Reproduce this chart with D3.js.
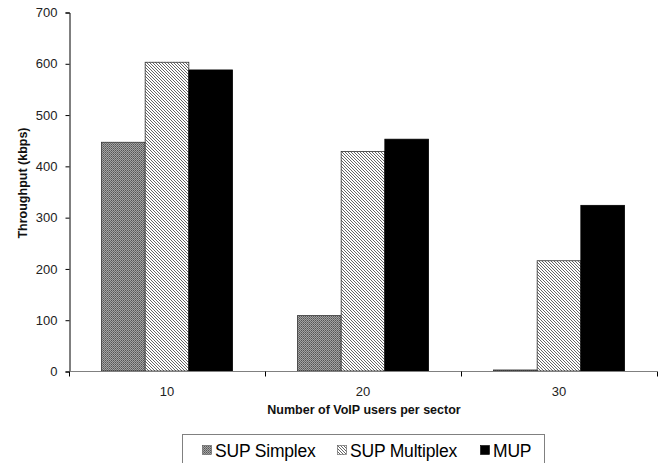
<!DOCTYPE html>
<html>
<head>
<meta charset="utf-8">
<script src="https://cdn.jsdelivr.net/npm/d3@7"></script>
<style>
  html, body { margin: 0; padding: 0; background: #fff; }
  svg { display: block; font-family: Arial, "Liberation Sans", sans-serif; }
</style>
</head>
<body>
<svg id="chart" width="670" height="463"></svg>
<script>
// Throughput per sector for each scheduling scheme
const categories = ["10", "20", "30"];
const seriesNames = ["SUP Simplex", "SUP Multiplex", "MUP"];
const supSimplex = [446, 108, 2];
const supMultiplex = [602, 428, 215];
const mup = [587, 452, 323];
const yTicks = [0, 100, 200, 300, 400, 500, 600, 700];

const seriesValues = [supSimplex, supMultiplex, mup];

const svg = d3.select("#chart");
const defs = svg.append("defs");

// Dotted grey fill
const p1 = defs.append("pattern").attr("id", "pSimplex")
  .attr("patternUnits", "userSpaceOnUse").attr("width", 2).attr("height", 2);
p1.append("rect").attr("width", 2).attr("height", 2).attr("fill", "#a4a4a4");
p1.append("rect").attr("x", 0).attr("y", 0).attr("width", 1).attr("height", 1).attr("fill", "#555");
p1.append("rect").attr("x", 1).attr("y", 1).attr("width", 1).attr("height", 1).attr("fill", "#6e6e6e");

// Diagonal hatching
const p2 = defs.append("pattern").attr("id", "pMultiplex")
  .attr("patternUnits", "userSpaceOnUse").attr("width", 3).attr("height", 3);
p2.append("rect").attr("width", 3).attr("height", 3).attr("fill", "#fff");
p2.append("path").attr("d", "M-1,-1 L4,4 M-1,2 L1,4 M2,-1 L4,1")
  .attr("stroke", "#666").attr("stroke-width", 1);

const fills = ["url(#pSimplex)", "url(#pMultiplex)", "#000"];
const strokes = ["#333", "#333", "#000"];

const plotLeft = 69, plotRight = 657, plotTop = 12, plotBottom = 371;

const x0 = d3.scaleBand().domain(categories).range([plotLeft, plotRight]).padding(0);
const x1 = d3.scaleBand().domain(seriesNames).range([0, x0.bandwidth()])
  .paddingInner(0).paddingOuter(0.744);
const y = d3.scaleLinear().domain([0, 700]).range([plotBottom, plotTop]);

// Bars
categories.forEach((c, ci) => {
  const g = svg.append("g").attr("transform", `translate(${x0(c)},0)`);
  seriesNames.forEach((s, si) => {
    const v = seriesValues[si][ci];
    g.append("rect")
      .attr("x", x1(s))
      .attr("y", y(v))
      .attr("width", x1.bandwidth())
      .attr("height", y(0) - y(v))
      .attr("fill", fills[si])
      .attr("stroke", strokes[si])
      .attr("stroke-width", 0.8);
  });
});

// Y axis
const yAxis = d3.axisLeft(y).tickValues(yTicks).tickSize(4).tickPadding(8);
const gy = svg.append("g").attr("transform", `translate(${plotLeft + 0.5},0.5)`).call(yAxis);
gy.select(".domain").attr("stroke", "#000");
gy.selectAll(".tick line").attr("stroke", "#000");
gy.selectAll("text").attr("font-size", 13).attr("fill", "#222")
  .attr("font-family", "Arial, 'Liberation Sans', sans-serif");

// X axis: line plus tick marks on category boundaries
const gx = svg.append("g").attr("transform", `translate(0,${plotBottom + 0.5})`);
gx.append("line").attr("x1", plotLeft).attr("x2", plotRight).attr("y1", 0).attr("y2", 0)
  .attr("stroke", "#808080").attr("stroke-width", 1);
const bounds = categories.map(c => x0(c)).concat([x0(categories[categories.length - 1]) + x0.bandwidth()]);
gx.selectAll("line.tk").data(bounds).enter().append("line").attr("class", "tk")
  .attr("x1", d => Math.round(d) + 0.5).attr("x2", d => Math.round(d) + 0.5)
  .attr("y1", 0).attr("y2", 5).attr("stroke", "#000");
gx.selectAll("text").data(categories).enter().append("text")
  .attr("x", d => x0(d) + x0.bandwidth() / 2)
  .attr("y", 24)
  .attr("text-anchor", "middle")
  .attr("font-size", 13).attr("fill", "#222")
  .text(d => d);

// Axis titles
svg.append("text").attr("x", 364).attr("y", 414).attr("text-anchor", "middle")
  .attr("font-size", 12.5).attr("font-weight", "bold").attr("fill", "#111")
  .text("Number of VoIP users per sector");
svg.append("text").attr("transform", "translate(27,183) rotate(-90)")
  .attr("text-anchor", "middle")
  .attr("font-size", 12.5).attr("font-weight", "bold").attr("fill", "#111")
  .text("Throughput (kbps)");

// Legend
const lg = svg.append("g");
lg.append("rect").attr("x", 182.5).attr("y", 434.5).attr("width", 362).attr("height", 40)
  .attr("fill", "#fff").attr("stroke", "#808080").attr("stroke-width", 1);
const legendX = [202, 337, 480];
seriesNames.forEach((s, i) => {
  lg.append("rect").attr("x", legendX[i] + 0.5).attr("y", 445.5).attr("width", 9).attr("height", 9)
    .attr("fill", fills[i]).attr("stroke", i === 2 ? "#000" : "#555").attr("stroke-width", 0.6);
  lg.append("text").attr("x", legendX[i] + 13).attr("y", 457)
    .attr("font-size", 17.5).attr("letter-spacing", -0.2).attr("fill", "#000").text(s);
});
</script>
</body>
</html>
